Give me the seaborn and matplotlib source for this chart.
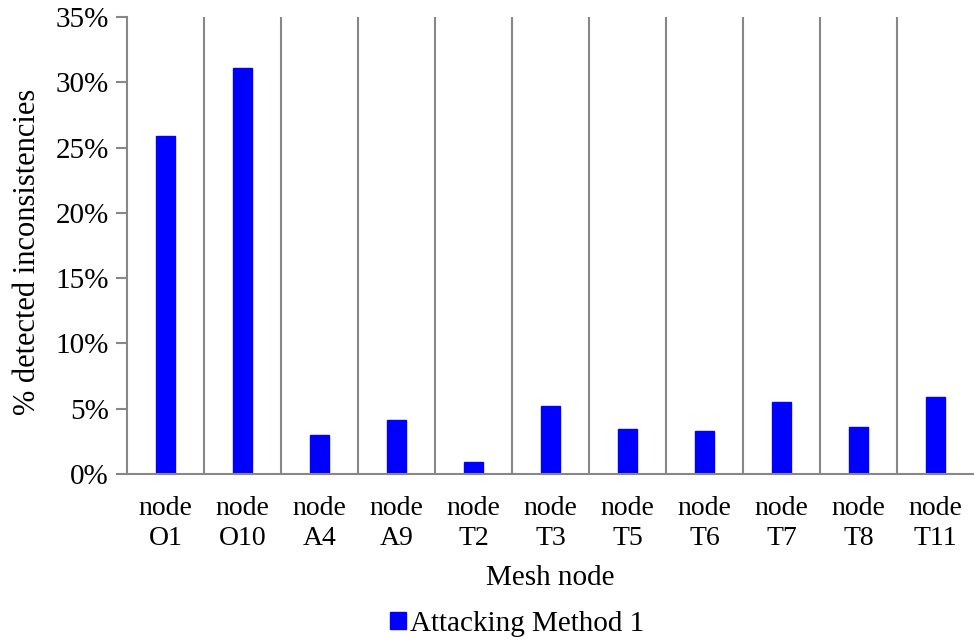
import matplotlib
matplotlib.use("Agg")
import matplotlib.pyplot as plt
import seaborn as sns
import pandas as pd
from matplotlib.ticker import PercentFormatter, FixedLocator
from matplotlib.patches import Patch

categories = ["node\nO1", "node\nO10", "node\nA4", "node\nA9", "node\nT2", "node\nT3",
              "node\nT5", "node\nT6", "node\nT7", "node\nT8", "node\nT11"]
values = [25.9, 31.1, 2.96, 4.1, 0.92, 5.2, 3.47, 3.27, 5.5, 3.58, 5.9]
series_name = "Attacking Method 1"
y_ticks = [0, 5, 10, 15, 20, 25, 30, 35]

sns.set_style("white")
plt.rcParams['font.family'] = ['Liberation Serif', 'DejaVu Serif']
plt.rcParams['text.color'] = 'black'
plt.rcParams['axes.labelcolor'] = 'black'
plt.rcParams['xtick.labelcolor'] = 'black'
plt.rcParams['ytick.labelcolor'] = 'black'

df = pd.DataFrame({"node": categories, "value": values})

fig = plt.figure(figsize=(9.74, 6.4), dpi=100)
ax = fig.add_axes([127/974, 166/640, 1 - 127/974, (474-17)/640])

sns.barplot(data=df, x="node", y="value", color="#0000FF", width=0.25, ax=ax,
            saturation=1, edgecolor="#0000FF")

ax.set_xlim(-0.5, len(categories) - 0.5)
ax.set_ylim(0, 35)
ax.set_yticks(y_ticks)
ax.yaxis.set_major_formatter(PercentFormatter(decimals=0))

ax.xaxis.set_minor_locator(FixedLocator([i + 0.5 for i in range(len(categories) - 1)]))
ax.grid(False)
ax.grid(True, which="minor", axis="x", color="#878787", linewidth=1.5)
ax.set_axisbelow(True)

for s in ["top", "right"]:
    ax.spines[s].set_visible(False)
for s in ["left", "bottom"]:
    ax.spines[s].set_color("#878787")
    ax.spines[s].set_linewidth(1.5)

ax.tick_params(axis="y", which="major", direction="out", length=8, width=1.5, color="#878787",
               labelsize=21, pad=5, left=True, labelcolor="black")
ax.tick_params(axis="x", which="both", length=0, labelsize=20, pad=16, labelcolor="black")
for lbl in ax.get_xticklabels():
    lbl.set_linespacing(1.27)

ax.set_xlabel("Mesh node", fontsize=21, labelpad=10, color="black")
ax.set_ylabel("% detected inconsistencies", fontsize=22, labelpad=8, color="black")
ax.yaxis.set_label_coords(-0.1, 0.485)
ax.yaxis.label.set_horizontalalignment("center")

handles = [Patch(facecolor="#0000FF", edgecolor="#0000FF", label=series_name)]
fig.legend(handles=handles, loc="center", bbox_to_anchor=(517/974, 1 - 624/640), frameon=False,
           fontsize=21, handlelength=0.55, handleheight=0.55, handletextpad=0.15, borderaxespad=0,
           labelcolor="black")

fig.savefig("out.png", dpi=100)
